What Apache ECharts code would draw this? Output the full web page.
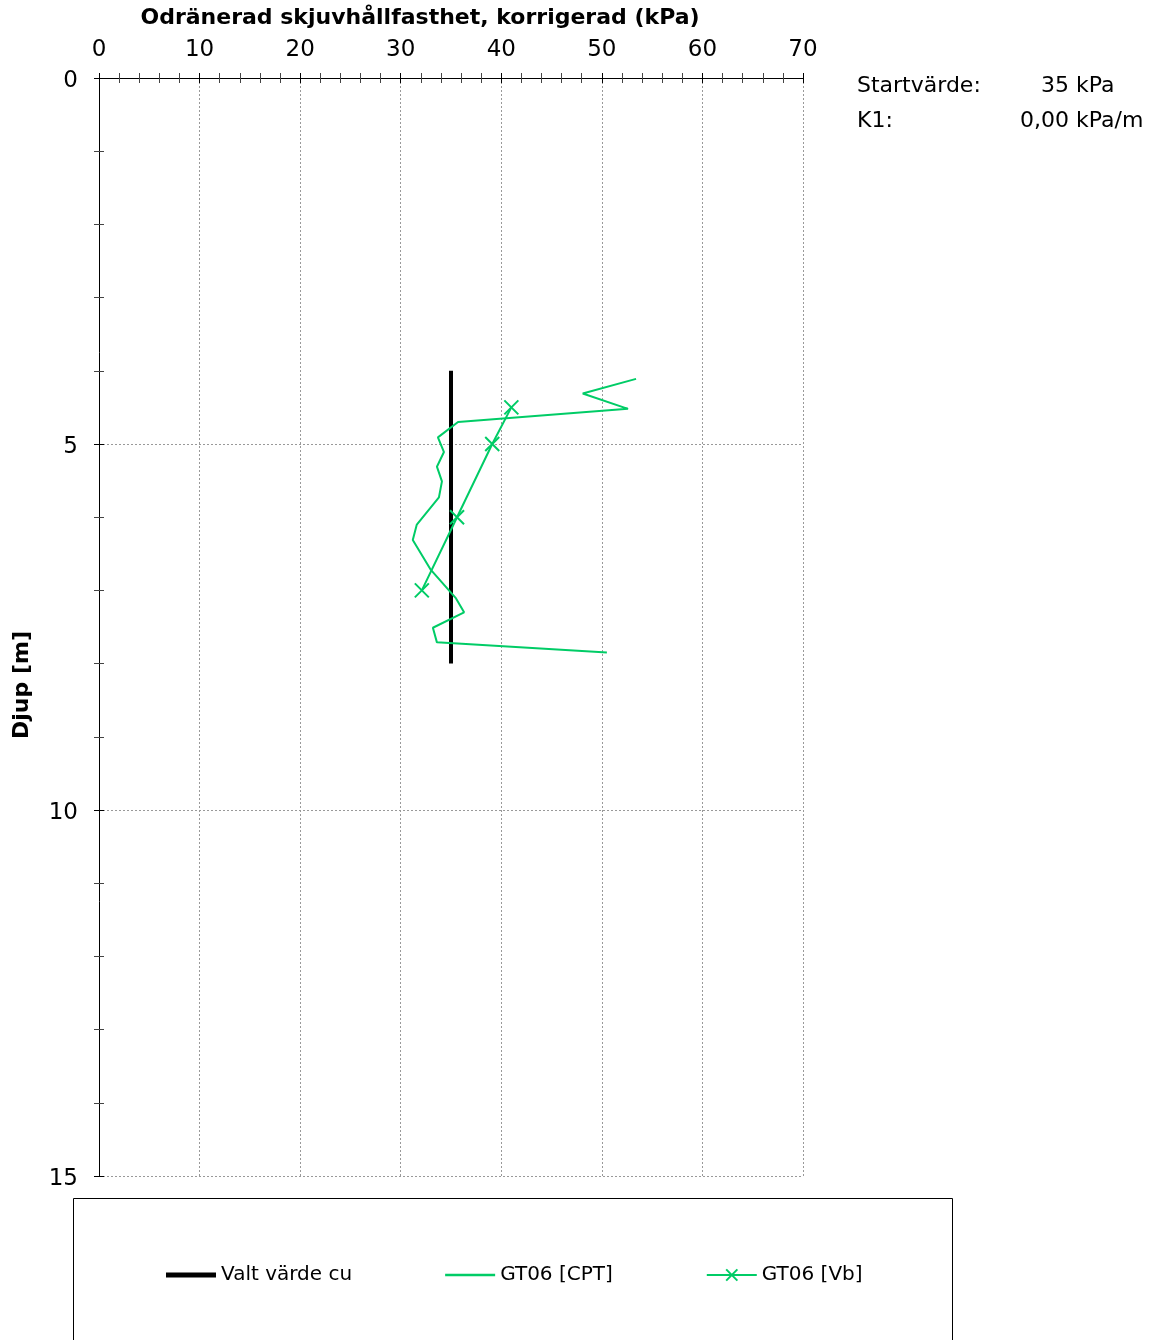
<!DOCTYPE html>
<html>
<head>
<meta charset="utf-8">
<script src="https://cdn.jsdelivr.net/npm/echarts@6/dist/echarts.min.js"></script>
<style>
html,body{margin:0;padding:0;background:#fff;}
#chart{width:1156px;height:1340px;}
</style>
</head>
<body>
<div id="chart"></div>
<script>
// ---- data ----
const valtDepth = [4, 8];
const valtValue = [35, 35];

const cptDepth = [4.11, 4.31, 4.52, 4.70, 4.91, 5.11, 5.31, 5.51, 5.73, 6.10, 6.31, 6.72, 7.11, 7.30, 7.51, 7.71, 7.85];
const cptValue = [53.4, 48.1, 52.6, 35.7, 33.7, 34.3, 33.6, 34.1, 33.8, 31.6, 31.2, 33.0, 35.5, 36.3, 33.2, 33.6, 50.5];

const vbDepth = [4.5, 5.0, 6.0, 7.0];
const vbValue = [41.0, 39.1, 35.6, 32.1];

const seriesNames = ['Valt värde cu', 'GT06 [CPT]', 'GT06 [Vb]'];
const xTitle = 'Odränerad skjuvhållfasthet, korrigerad (kPa)';
const yTitle = 'Djup [m]';
const infoLabels = ['Startvärde:', 'K1:'];
const infoValues = ['35', '0,00'];
const infoUnits = ['kPa', 'kPa/m'];

const pairs = (xs, ys) => xs.map((x, i) => [x, ys[i]]);

const FONT = 'DejaVu Sans';
const GREEN = '#00CC66';
const gridRect = {left: 99, top: 78, width: 704, height: 1098};
const dotted = {show: true, lineStyle: {color: '#999', width: 1, type: [2, 2]}};

function xAx(gridIndex, inside, main) {
  return {
    type: 'value', gridIndex: gridIndex, position: 'top', min: 0, max: 70, interval: 10,
    axisLine: {show: main, onZero: false, lineStyle: {color: '#000', width: 1}},
    axisTick: {show: true, inside: inside, length: 5, lineStyle: {color: '#000', width: 1}},
    minorTick: {show: true, splitNumber: 5, length: 5, lineStyle: {color: '#444', width: 1}},
    axisLabel: {show: main, fontSize: 23, color: '#000', fontFamily: FONT, margin: 16},
    splitLine: main ? dotted : {show: false}
  };
}
function yAx(gridIndex, inside, main) {
  return {
    type: 'value', gridIndex: gridIndex, position: 'left', inverse: true, min: 0, max: 15, interval: 5,
    axisLine: {show: main, onZero: false, lineStyle: {color: '#000', width: 1}},
    axisTick: {show: true, inside: inside, length: 5, lineStyle: {color: '#000', width: 1}},
    minorTick: {show: true, splitNumber: 5, length: 5, lineStyle: {color: '#444', width: 1}},
    axisLabel: {show: main, color: '#000', fontFamily: FONT, margin: 21,
      formatter: '{a|{value}}',
      rich: {a: {fontSize: 23, color: '#000', fontFamily: FONT, padding: [6, 0, 0, 0]}}},
    splitLine: main ? dotted : {show: false}
  };
}

const infoGraphics = [];
infoLabels.forEach((t, i) => {
  const y = 86 + i * 35;
  infoGraphics.push({type: 'text', x: 857, y: y, style: {text: t, font: '22px ' + FONT, fill: '#000', align: 'left', verticalAlign: 'middle'}});
  infoGraphics.push({type: 'text', x: 1069, y: y, style: {text: infoValues[i], font: '22px ' + FONT, fill: '#000', align: 'right', verticalAlign: 'middle'}});
  infoGraphics.push({type: 'text', x: 1076, y: y, style: {text: infoUnits[i], font: '22px ' + FONT, fill: '#000', align: 'left', verticalAlign: 'middle'}});
});

const chart = echarts.init(document.getElementById('chart'), null, {renderer: 'canvas'});
chart.setOption({
  backgroundColor: '#fff',
  animation: false,
  textStyle: {fontFamily: FONT},
  grid: [Object.assign({}, gridRect), Object.assign({}, gridRect)],
  xAxis: [xAx(0, false, true), xAx(1, true, false)],
  yAxis: [yAx(0, false, true), yAx(1, true, false)],
  legend: {
    left: 166, top: 1265, padding: 0, itemWidth: 50, itemHeight: 14, itemGap: 93,
    data: [
      {name: seriesNames[0], icon: 'path://M0,0L50,0L50,5L0,5Z', itemStyle: {color: '#000', borderWidth: 0}},
      {name: seriesNames[1], icon: 'path://M0,0L50,0L50,2.5L0,2.5Z', itemStyle: {color: GREEN, borderWidth: 0}},
      {name: seriesNames[2], lineStyle: {width: 2}, itemStyle: {borderWidth: 2}}
    ],
    textStyle: {fontSize: 20, color: '#000', fontFamily: FONT}
  },
  graphic: [
    {type: 'rect', shape: {x: 73.5, y: 1198.5, width: 879, height: 200}, style: {fill: 'none', stroke: '#000', lineWidth: 1}, z: -1},
    {type: 'text', x: 420, y: 18, style: {text: xTitle, font: 'bold 22px ' + FONT, fill: '#000', align: 'center', verticalAlign: 'middle'}},
    {type: 'text', x: 22, y: 685, rotation: Math.PI / 2, style: {text: yTitle, font: 'bold 22px ' + FONT, fill: '#000', align: 'center', verticalAlign: 'middle'}}
  ].concat(infoGraphics),
  series: [
    {name: seriesNames[0], type: 'line', xAxisIndex: 0, yAxisIndex: 0, data: pairs(valtValue, valtDepth),
      symbol: 'none', lineStyle: {color: '#000', width: 4}, itemStyle: {color: '#000'}, z: 3},
    {name: seriesNames[1], type: 'line', xAxisIndex: 0, yAxisIndex: 0, data: pairs(cptValue, cptDepth),
      symbol: 'none', lineStyle: {color: GREEN, width: 2}, itemStyle: {color: GREEN}, z: 4},
    {name: seriesNames[2], type: 'line', xAxisIndex: 0, yAxisIndex: 0, data: pairs(vbValue, vbDepth),
      symbol: 'path://M0,0L10,10M10,0L0,10', symbolSize: 14, showAllSymbol: true,
      lineStyle: {color: GREEN, width: 2}, itemStyle: {color: GREEN, borderColor: GREEN, borderWidth: 2}, z: 5},
    {type: 'line', xAxisIndex: 1, yAxisIndex: 1, data: [], silent: true}
  ]
});
</script>
</body>
</html>
